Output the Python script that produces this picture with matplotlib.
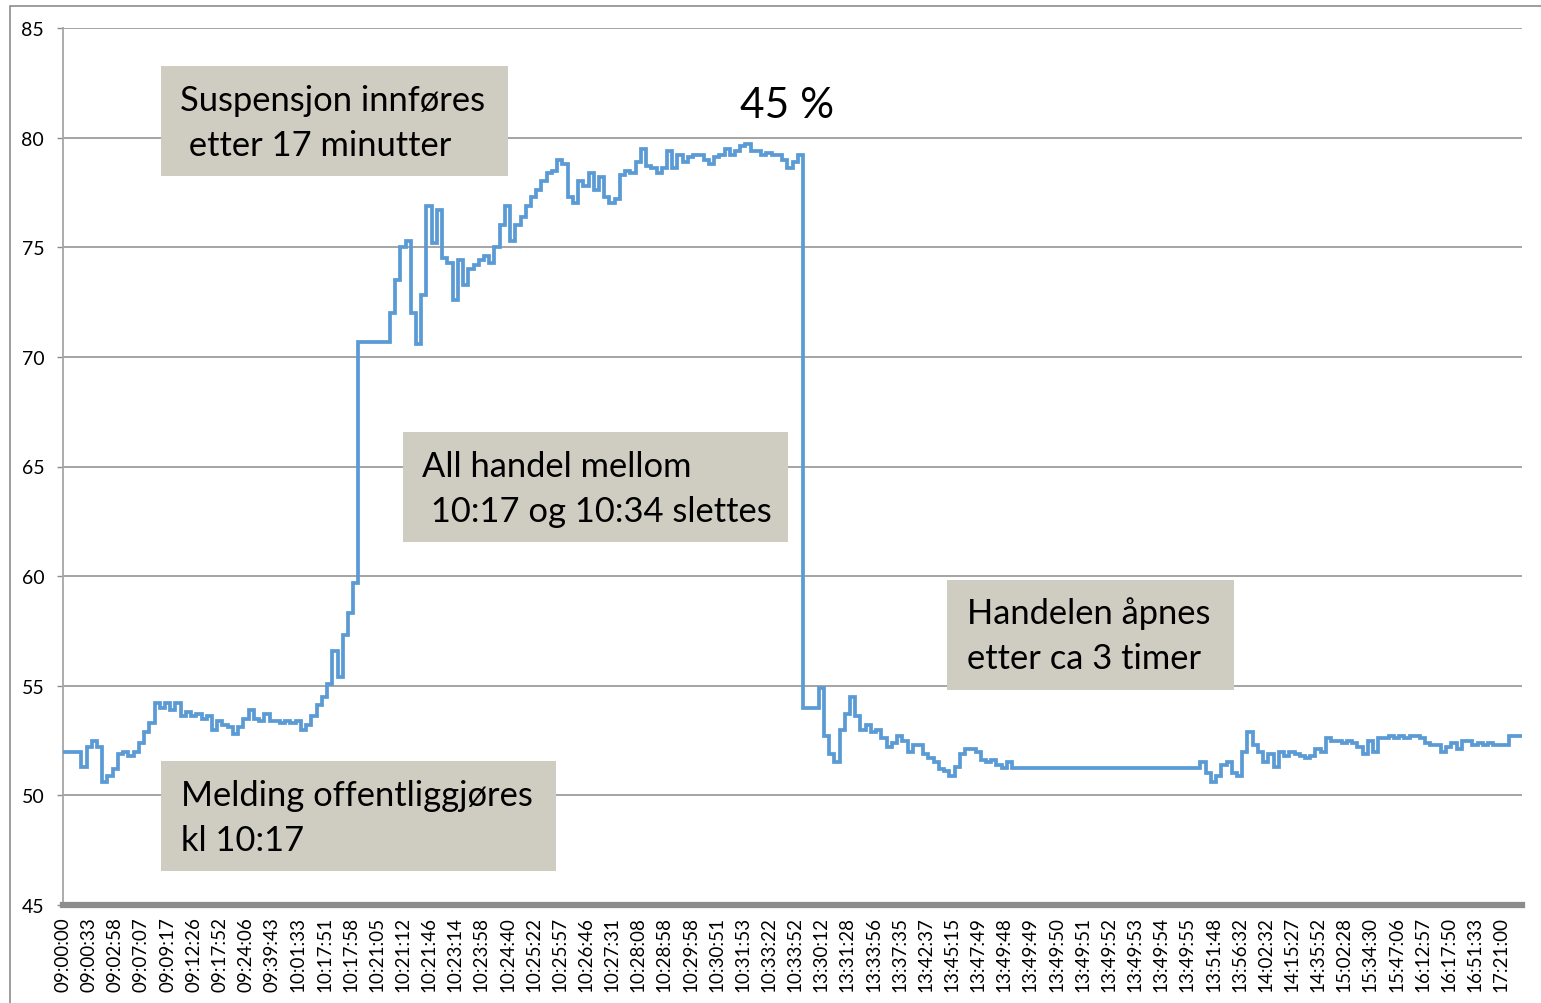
import matplotlib.pyplot as plt
from matplotlib.patches import Rectangle

W, H = 1541, 1004

# x-axis labels (every 5th sample carries a label)
time_labels = [
    '09:00:00', '09:00:33', '09:02:58', '09:07:07', '09:09:17', '09:12:26',
    '09:17:52', '09:24:06', '09:39:43', '10:01:33', '10:17:51', '10:17:58',
    '10:21:05', '10:21:12', '10:21:46', '10:23:14', '10:23:58', '10:24:40',
    '10:25:22', '10:25:57', '10:26:46', '10:27:31', '10:28:08', '10:28:58',
    '10:29:58', '10:30:51', '10:31:53', '10:33:22', '10:33:52', '13:30:12',
    '13:31:28', '13:33:56', '13:37:35', '13:42:37', '13:45:15', '13:47:49',
    '13:49:48', '13:49:49', '13:49:50', '13:49:51', '13:49:52', '13:49:53',
    '13:49:54', '13:49:55', '13:51:48', '13:56:32', '14:02:32', '14:15:27',
    '14:35:52', '15:02:28', '15:34:30', '15:47:06', '16:12:57', '16:17:50',
    '16:51:33', '17:21:00',
]
label_step = 5

# price readings, split by phase of the day
pre_news = [
    52.0, 52.0, 52.0, 52.0,
    51.3, 52.2, 52.5, 52.2, 50.6, 50.9, 51.2,
    51.9, 52.0, 51.8, 52.0, 52.4, 52.9, 53.3,
    54.2, 54.0, 54.2, 53.9, 54.2, 53.6, 53.8,
    53.6, 53.7, 53.5, 53.6, 53.0, 53.4, 53.2,
    53.1, 52.8, 53.1, 53.5, 53.9, 53.5, 53.4,
    53.7, 53.4, 53.4, 53.3, 53.4, 53.3, 53.4,
    53.0, 53.2, 53.6, 54.1, 54.5, 55.1, 56.6,
    55.4, 57.3, 58.3, 59.7,
]
deleted_trades = [
    70.7, 70.7, 70.7, 70.7, 70.7, 70.7,
    72.0, 73.5, 75.0, 75.3, 72.0, 70.6, 72.8,
    76.9, 75.2, 76.7, 74.5, 74.3, 72.6, 74.4,
    73.3, 74.0, 74.2, 74.4, 74.6, 74.3, 75.0,
    76.0, 76.9, 75.3, 76.0, 76.4, 76.9, 77.3,
    77.6, 78.0, 78.4, 78.5, 79.0, 78.8, 77.3,
    77.0, 78.0, 77.8, 78.4, 77.6, 78.2, 77.3,
    77.0, 77.2, 78.3, 78.5, 78.4, 78.9, 79.5,
    78.7, 78.6, 78.4, 78.6, 79.4, 78.6, 79.2,
    78.9, 79.1, 79.2, 79.2, 79.0, 78.8, 79.1,
    79.2, 79.5, 79.2, 79.4, 79.6, 79.7, 79.4,
    79.4, 79.2, 79.3, 79.2, 79.2, 79.0, 78.6, 78.9, 79.2,
]
reopened = [
    54.0, 54.0, 54.0, 54.9, 52.7, 51.9, 51.5,
    53.0, 53.7, 54.5, 53.6, 53.0, 53.2, 52.9,
    53.0, 52.6, 52.2, 52.4, 52.7, 52.5, 52.0,
    52.3, 52.3, 51.9, 51.7, 51.5, 51.2, 51.1,
    50.9, 51.3, 51.9, 52.1, 52.1, 52.0, 51.6,
    51.5, 51.6, 51.4, 51.25, 51.5,
]
flat_1349 = [
    51.25, 51.25, 51.25, 51.25, 51.25, 51.25, 51.25, 51.25, 51.25,
    51.25, 51.25, 51.25, 51.25, 51.25, 51.25, 51.25, 51.25, 51.25,
    51.25, 51.25, 51.25, 51.25, 51.25, 51.25, 51.25, 51.25, 51.25,
    51.25, 51.25, 51.25, 51.25, 51.25, 51.25, 51.25, 51.25, 51.25,
]
afternoon = [
    51.5, 51.0, 50.6, 50.9, 51.4, 51.5, 51.0,
    50.9, 52.0, 52.9, 52.3, 52.0, 51.5, 51.9,
    51.3, 52.0, 51.8, 52.0, 51.9, 51.8, 51.7,
    51.8, 52.1, 52.0, 52.6, 52.5, 52.5, 52.4,
    52.5, 52.4, 52.2, 51.9, 52.5, 52.0, 52.6,
    52.6, 52.7, 52.6, 52.7, 52.6, 52.7, 52.7,
    52.6, 52.4, 52.3, 52.3, 52.0, 52.2, 52.4,
    52.1, 52.5, 52.5, 52.3, 52.4, 52.3, 52.4,
    52.3, 52.3, 52.3, 52.7, 52.7, 52.7,
]

y_ticks = [45, 50, 55, 60, 65, 70, 75, 80, 85]

notes = [
    # (text lines, box left/top/right/bottom in px, text x px, first line y px)
    (['Suspensjon innføres', ' etter 17 minutter'], (161, 67, 508, 177), 180, 101),
    (['All handel mellom', ' 10:17 og 10:34 slettes'], (403, 433, 788, 543), 422, 467),
    (['Handelen åpnes', 'etter ca 3 timer'], (947, 581, 1234, 691), 967, 614),
    (['Melding offentliggjøres', 'kl 10:17'], (161, 762, 556, 872), 181, 796),
]

plt.rcParams['font.family'] = ['Lato', 'DejaVu Sans']

prices = pre_news + deleted_trades + reopened + flat_1349 + afternoon
xs = list(range(len(prices)))


def fx(x):
    return x / W


def fy(y):
    return 1 - y / H


fig = plt.figure(figsize=(W / 100, H / 100), dpi=100)
ax = fig.add_axes([fx(63), fy(906), fx(1522) - fx(63), fy(29) - fy(906)])

ax.plot(xs, prices, color='#5b9bd5', linewidth=2.7, drawstyle='steps-mid',
        solid_joinstyle='miter', zorder=3)

ax.set_xlim(0, len(prices) - 1)
ax.set_ylim(45, 85)
ax.set_yticks(y_ticks)
ax.set_yticklabels([str(v) for v in y_ticks], fontsize=14)
ax.set_xticks(xs[::label_step][:len(time_labels)])
ax.set_xticklabels(time_labels, rotation=90, fontsize=13.5)
ax.tick_params(axis='y', length=4.5, width=1.0, color='#8c8c8c', pad=9)
ax.tick_params(axis='x', length=0, pad=8)

ax.grid(axis='y', color='#8c8c8c', linewidth=1.1, zorder=0)
ax.set_axisbelow(True)
for side in ['top', 'right']:
    ax.spines[side].set_visible(False)
ax.spines['left'].set_color('#a6a6a6')
ax.spines['left'].set_linewidth(1.3)
ax.spines['bottom'].set_color('#8c8c8c')
ax.spines['bottom'].set_linewidth(4.5)

# outer chart border
fig.patches.append(Rectangle((fx(10), fy(1010)), 1.0, fy(7) - fy(1010),
                             transform=fig.transFigure, fill=False,
                             edgecolor='#8c8c8c', linewidth=1.2))

for lines, (x0, y0, x1, y1), tx, ty in notes:
    fig.patches.append(Rectangle((fx(x0), fy(y1)), fx(x1) - fx(x0), fy(y0) - fy(y1),
                                 transform=fig.transFigure, facecolor='#cfcdc1',
                                 edgecolor='none', zorder=5))
    for k, line in enumerate(lines):
        fig.text(fx(tx), fy(ty + 45 * k), line, fontsize=24.8, ha='left',
                 va='center', color='black', zorder=6)

fig.text(fx(740), fy(106), '45 %', fontsize=30.5, ha='left', va='center', color='black')

fig.savefig('out.png', dpi=100)
